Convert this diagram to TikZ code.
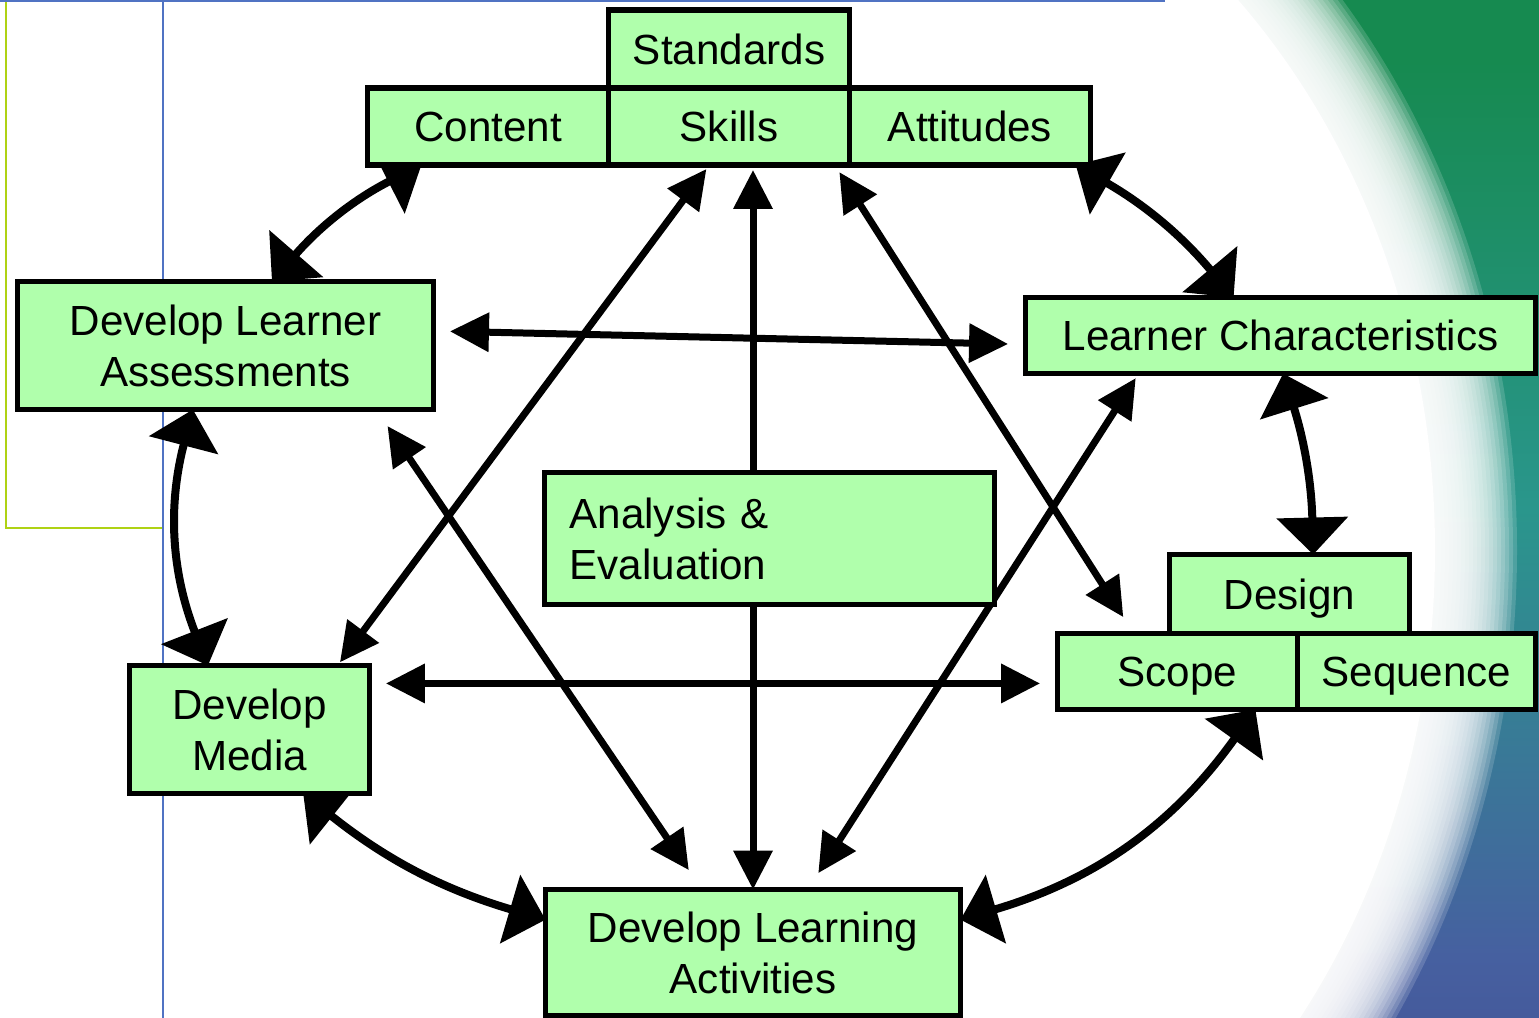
\documentclass[tikz,border=0pt]{standalone}
\usepackage{fontspec}
\setmainfont{Liberation Sans}
\usetikzlibrary{arrows.meta,positioning}

\definecolor{boxgreen}{RGB}{176,255,172}
\definecolor{rimgreen}{RGB}{22,138,80}
\definecolor{rimteal}{RGB}{42,150,140}
\definecolor{rimblue}{RGB}{70,96,160}
\definecolor{rimpurple}{RGB}{62,46,124}
\definecolor{guidelime}{RGB}{175,210,20}
\definecolor{guideblue}{RGB}{80,115,195}

\pgfdeclareverticalshading{rim}{100bp}{color(0bp)=(rimpurple); color(28bp)=(rimblue);
  color(50bp)=(rimteal); color(72bp)=(rimgreen); color(100bp)=(rimgreen)}
\pgfdeclarelayer{back}
\pgfdeclarelayer{mid}
\pgfsetlayers{back,mid,main}

\begin{document}
\begin{tikzpicture}[
        x=0.02cm, y=-0.02cm,
        box/.style={draw, line width=0.11cm, fill=boxgreen, inner sep=0pt, outer sep=0pt,
            align=center, font=\fontsize{24}{29}\selectfont},
        oneline/.style={text height=17.2pt, text depth=0pt},
        twoway/.style={line width=0.14cm, {Triangle[length=0.78cm,width=0.76cm]}-{Triangle[length=0.78cm,width=0.76cm]}},
        oneway/.style={line width=0.14cm, -{Triangle[length=0.78cm,width=0.76cm]}},
        swing/.style={line width=0.16cm, {Triangle[length=0.74cm,width=1.4cm]}-{Triangle[length=0.74cm,width=1.4cm]}}
    ]
        \useasboundingbox (0,0) rectangle (1539,1018);

        % backdrop: coloured rim on the right, soft white disc over it
        \begin{pgfonlayer}{back}
            \begin{scope}
                \clip (0,0) rectangle (1539,1018);
                \shade[shading=rim] (1100,0) rectangle (1539,1018);
                \foreach \d in {42,38,...,-38}
                    \fill[white, fill opacity=.16] (775,550) ellipse [x radius=700+\d, y radius=812+\d];
                \fill[white] (775,550) ellipse [x radius=660, y radius=772];
            \end{scope}
            \draw[guidelime, line width=0.04cm] (6,0) -- (6,528) -- (163,528);
            \draw[guideblue, line width=0.04cm] (163,0) -- (163,1018);
            \draw[guideblue, line width=0.04cm] (0,1) -- (1165,1);
        \end{pgfonlayer}

        % top cluster
        \node[box, oneline, minimum width=4.82cm, minimum height=1.54cm] (skl) at (729,126.5) {Skills};
        \node[box, oneline, minimum width=4.82cm, minimum height=1.56cm, above=0pt of skl] (std) {Standards};
        \node[box, oneline, minimum width=4.82cm, minimum height=1.54cm, left=0pt of skl] (cont) {Content};
        \node[box, oneline, minimum width=4.82cm, minimum height=1.54cm, right=0pt of skl] (att) {Attitudes};

        % the ring
        \node[box, minimum width=8.32cm, minimum height=2.56cm] (dla) at (225.5,345.5) {Develop Learner\\Assessments};
        \node[box, oneline, minimum width=10.2cm, minimum height=1.52cm] (lc) at (1280.5,335.5) {Learner Characteristics};
        \node[box, align=left, text width=8cm, minimum width=9cm, minimum height=2.64cm] (ana) at (769.5,538.5) {Analysis \&\\Evaluation};
        \node[box, oneline, minimum width=4.8cm, minimum height=1.52cm] (scp) at (1177.5,671.5) {Scope};
        \node[box, oneline, minimum width=4.76cm, minimum height=1.52cm, right=0pt of scp] (seq) {Sequence};
        \node[box, oneline, minimum width=4.8cm, minimum height=1.58cm] (des) at (1289.5,594) {Design};
        \node[box, minimum width=4.8cm, minimum height=2.56cm] (dm) at (249.5,729.5) {Develop\\Media};
        \node[box, minimum width=8.3cm, minimum height=2.52cm] (dlact) at (753,952.5) {Develop Learning\\Activities};

        \begin{pgfonlayer}{mid}
            % curved links round the outside
            \draw[swing] (dla.54) to[bend left=11] (cont.210.6);
            \draw[swing] (att.-20.7) to[bend left=10] (lc.141.3);
            \draw[swing] (lc.-86) to[bend left=8] (des.59.2);
            \draw[swing] (scp.-26.7) to[bend left=19] (dlact.9.7);
            \draw[swing] (dlact.171.6) to[bend left=11] (dm.-50.1);
            \draw[swing] (dla.243.1) to[bend right=18] (dm.123);

            % straight links across the middle
            \draw[twoway, shorten <=.33cm, shorten >=.35cm] (dla.4.5) -- (lc.182.6);
            \draw[twoway, shorten <=.08cm, shorten >=.1cm] (dm.36.1) -- (skl.-117.8);
            \draw[twoway, shorten <=.4cm, shorten >=.47cm] (dla.-23.4) -- (dlact.129.4);
            \draw[twoway, shorten <=.17cm, shorten >=.39cm] (skl.-20.8) -- (scp.139.8);
            \draw[twoway, shorten <=.11cm, shorten >=.39cm] (lc.195.1) -- (dlact.49.8);
            \draw[twoway, shorten <=.33cm, shorten >=.35cm] (dm.21.6) -- (dm.21.6 -| scp.west);
            \draw[oneway, shorten >=.1cm] (dlact.north |- ana.north) -- (dlact.north |- skl.south);
            \draw[oneway] (dlact.north |- ana.south) -- (dlact.north);
        \end{pgfonlayer}
    \end{tikzpicture}
\end{document}
